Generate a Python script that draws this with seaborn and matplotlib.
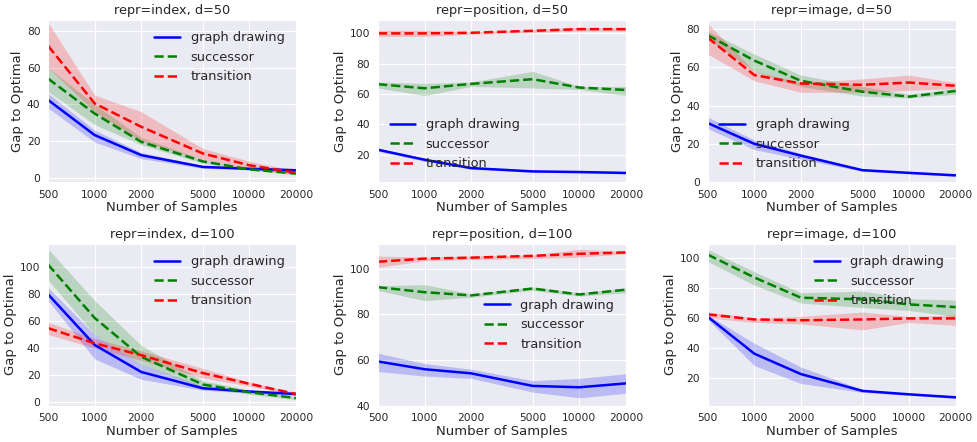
import matplotlib
matplotlib.use("Agg")
import matplotlib.pyplot as plt
import numpy as np
import pandas as pd
import seaborn as sns

samples = [500, 1000, 2000, 5000, 10000, 20000]
methods = ["graph drawing", "successor", "transition"]
panel_titles = ["repr=index, d=50", "repr=position, d=50", "repr=image, d=50",
                "repr=index, d=100", "repr=position, d=100", "repr=image, d=100"]

# mean, lower, upper for every panel / method
idx50_gd = [42.4, 23.3, 12.4, 6.0, 5.0, 4.2]
idx50_gd_lo = [38, 19.5, 10.5, 5.3, 4.4, 3.6]
idx50_gd_hi = [46, 26, 13.8, 6.8, 5.6, 4.8]
idx50_su = [54, 35, 19.6, 9, 4.7, 2.4]
idx50_su_lo = [47, 29, 18, 8, 4.2, 1.8]
idx50_su_hi = [60, 40, 22, 10, 5.3, 3.0]
idx50_tr = [71.8, 40.5, 27.8, 13.3, 6.9, 2.9]
idx50_tr_lo = [60, 36, 20, 10, 5, 2]
idx50_tr_hi = [84.5, 45, 36, 16, 9, 4]

pos50_gd = [23.3, 16.7, 11.2, 9.0, 8.6, 8.0]
pos50_gd_lo = [22.3, 15.7, 10.4, 8.4, 8.0, 7.3]
pos50_gd_hi = [24.3, 17.7, 12.0, 9.6, 9.2, 8.7]
pos50_su = [66.5, 63.8, 66.7, 69.8, 64.3, 62.7]
pos50_su_lo = [64, 59, 65, 64, 63, 59]
pos50_su_hi = [68, 67, 68, 75, 65, 65]
pos50_tr = [100, 100, 100.4, 101.7, 102.8, 102.8]
pos50_tr_lo = [98, 98, 99.5, 100.5, 101.5, 101.5]
pos50_tr_hi = [102, 102, 101, 102.5, 104, 103.5]

img50_gd = [30.9, 20, 13.8, 6.2, 4.8, 3.5]
img50_gd_lo = [28, 17, 12, 5.6, 4.3, 3.0]
img50_gd_hi = [34, 22, 15, 6.8, 5.3, 4.0]
img50_su = [76.9, 63.6, 53, 47.3, 44.7, 47.7]
img50_su_lo = [75, 58, 50, 45, 44, 46]
img50_su_hi = [79, 67, 56, 50, 46, 49]
img50_tr = [75.6, 56, 51.6, 50.9, 52.1, 50.4]
img50_tr_lo = [67, 53, 47, 47, 48, 49]
img50_tr_hi = [83, 58, 52, 54, 56, 52]

idx100_gd = [79.6, 42.3, 22.4, 10.4, 8, 6.2]
idx100_gd_lo = [75, 32, 17, 9, 7, 5]
idx100_gd_hi = [84.6, 50, 28, 12, 9, 7]
idx100_su = [101.5, 62.2, 33.6, 13.2, 7.5, 3.2]
idx100_su_lo = [90, 50, 28, 11, 6, 2]
idx100_su_hi = [113, 75, 42, 16, 9, 4]
idx100_tr = [54.7, 43.5, 34.8, 21.6, 13.7, 6.2]
idx100_tr_lo = [50, 40, 31, 18, 12, 5]
idx100_tr_hi = [59, 47, 38, 25, 15, 7]

pos100_gd = [59.4, 56, 54.2, 48.7, 48.1, 49.8]
pos100_gd_lo = [55, 53, 52, 46, 43.5, 45.5]
pos100_gd_hi = [63, 58.5, 56, 51, 52, 54]
pos100_su = [91.9, 89.7, 88.3, 91.3, 88.7, 90.8]
pos100_su_lo = [90.5, 86, 87.5, 90.5, 88, 89.5]
pos100_su_hi = [92.5, 93, 89, 92, 89.5, 91.5]
pos100_tr = [103, 104.4, 104.8, 105.6, 106.5, 107.1]
pos100_tr_lo = [100.5, 103.5, 104, 104.5, 105, 106.5]
pos100_tr_hi = [105.5, 105, 105.5, 106, 108.5, 107.5]

img100_gd = [60.8, 36, 22.3, 11, 8.7, 6.7]
img100_gd_lo = [59, 28, 16, 10, 8, 6]
img100_gd_hi = [62, 43, 27, 12, 9.5, 7.5]
img100_su = [102.5, 87.2, 73.6, 72.5, 69.1, 67.3]
img100_su_lo = [98, 82, 70, 67, 65, 61]
img100_su_hi = [106, 91, 77, 78, 73, 72]
img100_tr = [62.4, 59, 58.5, 59, 59.7, 59.7]
img100_tr_lo = [60, 57, 56, 52, 57, 55]
img100_tr_hi = [64, 60, 61, 64, 61, 62]

panels = [
    [(idx50_gd, idx50_gd_lo, idx50_gd_hi), (idx50_su, idx50_su_lo, idx50_su_hi), (idx50_tr, idx50_tr_lo, idx50_tr_hi)],
    [(pos50_gd, pos50_gd_lo, pos50_gd_hi), (pos50_su, pos50_su_lo, pos50_su_hi), (pos50_tr, pos50_tr_lo, pos50_tr_hi)],
    [(img50_gd, img50_gd_lo, img50_gd_hi), (img50_su, img50_su_lo, img50_su_hi), (img50_tr, img50_tr_lo, img50_tr_hi)],
    [(idx100_gd, idx100_gd_lo, idx100_gd_hi), (idx100_su, idx100_su_lo, idx100_su_hi), (idx100_tr, idx100_tr_lo, idx100_tr_hi)],
    [(pos100_gd, pos100_gd_lo, pos100_gd_hi), (pos100_su, pos100_su_lo, pos100_su_hi), (pos100_tr, pos100_tr_lo, pos100_tr_hi)],
    [(img100_gd, img100_gd_lo, img100_gd_hi), (img100_su, img100_su_lo, img100_su_hi), (img100_tr, img100_tr_lo, img100_tr_hi)],
]

ylims = [(-2.2, 86), (2, 109), (0, 85), (-2.5, 117), (40, 111), (1, 110)]
legend_locs = ["upper right", "lower left", "lower left", "upper right", "center right", "upper right"]

colors = ["blue", "green", "red"]
styles = ["-", "--", "--"]

sns.set_style("darkgrid")
plt.rcParams["font.family"] = ["DejaVu Sans"]

fig, axes = plt.subplots(2, 3, figsize=(9.77, 4.42), dpi=100)

for i, ax in enumerate(axes.flat):
    for j, (mean, lo, hi) in enumerate(panels[i]):
        df = pd.DataFrame({"samples": samples, "gap": mean})
        sns.lineplot(data=df, x="samples", y="gap", ax=ax, color=colors[j],
                     linestyle=styles[j], linewidth=1.8, label=methods[j])
        ax.fill_between(samples, lo, hi, color=colors[j], alpha=0.2, linewidth=0)
    ax.set_xscale("log")
    ax.set_xlim(500, 20000)
    ax.set_ylim(*ylims[i])
    ax.set_xticks(samples)
    ax.set_xticklabels([str(s) for s in samples])
    ax.minorticks_off()
    ax.tick_params(labelsize=7.7, pad=2)
    ax.set_xlabel("Number of Samples", fontsize=9.5, labelpad=1)
    ax.set_ylabel("Gap to Optimal", fontsize=9.5, labelpad=2)
    ax.set_title(panel_titles[i], fontsize=9.3, pad=4)
    ax.legend(loc=legend_locs[i], frameon=False, fontsize=9.3)

plt.tight_layout(pad=0.3, w_pad=1.5, h_pad=1.0)
plt.savefig("out.png", dpi=100)
